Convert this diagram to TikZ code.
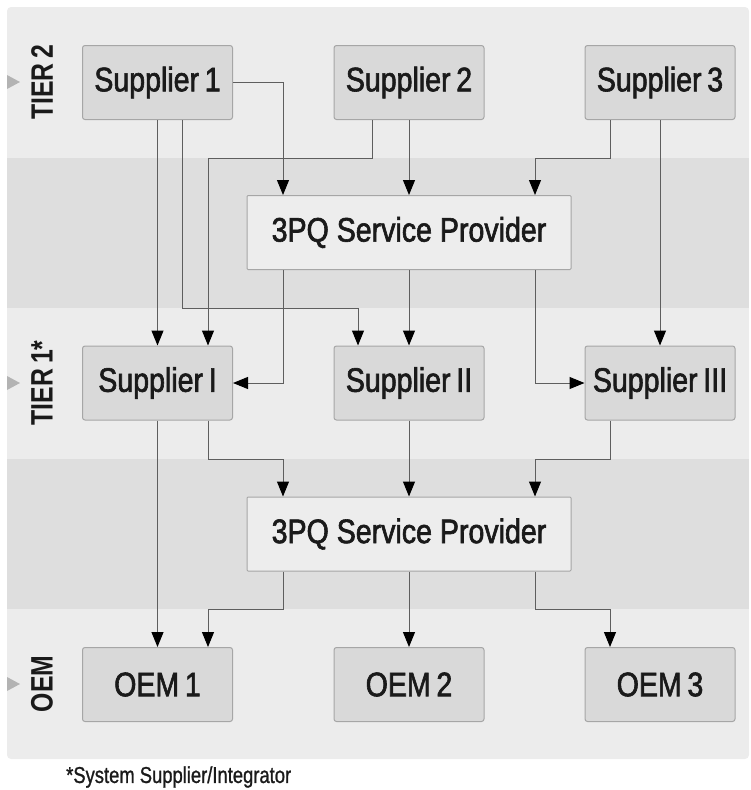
\documentclass[tikz,border=0pt]{standalone}
\usepackage{fontspec}
\setmainfont{Liberation Sans}[FakeStretch=0.84,FakeBold=1.8]
\newfontfamily\tierfont{Liberation Sans}[FakeStretch=0.8]
\newfontfamily\notefont{Liberation Sans}[FakeStretch=0.8,FakeBold=1.0]
\usetikzlibrary{arrows.meta}
\definecolor{panel}{HTML}{ECECEC}
\definecolor{band}{HTML}{DEDEDE}
\definecolor{boxfill}{HTML}{D9D9D9}
\definecolor{boxline}{HTML}{A6A6A6}
\definecolor{provfill}{HTML}{EDEDED}
\definecolor{wire}{HTML}{5E5E5E}
\definecolor{ink}{HTML}{1A1A1A}
\definecolor{marker}{HTML}{B3B3B3}
\tikzset{
  party/.style={draw=boxline, fill=boxfill, line width=1pt, rounded corners=2.5pt,
    minimum width=150pt, minimum height=74pt, inner sep=0pt, text=ink,
    font=\fontsize{34}{40}\selectfont},
  provider/.style={party, fill=provfill, rounded corners=1pt, minimum width=324pt},
  tier/.style={rotate=90, text=ink, font=\tierfont\bfseries\fontsize{31}{36}\selectfont, inner sep=0pt},
  flow/.style={draw=wire, line width=1pt,
    -{Triangle[length=15pt,width=12pt,fill=black,color=black]}},
}
\begin{document}
\begin{tikzpicture}[x=1pt,y=-1pt]
\useasboundingbox (0,0) rectangle (750,790);
% tier panel and shaded bands
\fill[panel, rounded corners=4pt] (7,7) rectangle (749,759);
\fill[band] (7,158) rectangle (749,308);
\fill[band] (7,459) rectangle (749,609);

% tier labels with side markers
\foreach \yy/\lab in {82/{TIER\,2}, 383/{TIER\,1*}, 684/{OEM}} {
  \fill[marker] (7,\yy-7) -- (20,\yy) -- (7,\yy+7) -- cycle;
  \node[tier] at (42,\yy) {\lab};
}

% tier 2 suppliers
\node[party] (s1) at (157.5,82.5) {Supplier\,1};
\node[party] (s2) at (409,82.5) {Supplier\,2};
\node[party] (s3) at (660,82.5) {Supplier\,3};
% service providers
\node[provider] (p1) at (409,232.5) {3PQ Service Provider};
\node[provider] (p2) at (409,534) {3PQ Service Provider};
% tier 1 suppliers
\node[party] (t1) at (157.5,383) {Supplier\,I};
\node[party] (t2) at (409,383) {Supplier\,II};
\node[party] (t3) at (660,383) {Supplier\,III};
% OEMs
\node[party] (o1) at (157.5,684.5) {OEM\,1};
\node[party] (o2) at (409,684.5) {OEM\,2};
\node[party] (o3) at (660,684.5) {OEM\,3};

% tier 2 -> provider / tier 1
\draw[flow] (s1.east) -| ([xshift=-126pt]p1.north);
\draw[flow] (s1.south) -- (t1.north);
\draw[flow] ([xshift=25pt]s1.south) -- ++(0,188.5) -| ([xshift=-51pt]t2.north);
\draw[flow] ([xshift=-37pt]s2.south) -- ++(0,38.5) -| ([xshift=50.5pt]t1.north);
\draw[flow] (s2.south) -- (p1.north);
\draw[flow] ([xshift=-50pt]s3.south) -- ++(0,38.5) -| ([xshift=126pt]p1.north);
\draw[flow] (s3.south) -- (t3.north);
% provider -> tier 1
\draw[flow] ([xshift=-126pt]p1.south) |- (t1.east);
\draw[flow] (p1.south) -- (t2.north);
\draw[flow] ([xshift=126pt]p1.south) |- (t3.west);
% tier 1 -> provider / OEM
\draw[flow] (t1.south) -- (o1.north);
\draw[flow] ([xshift=50.5pt]t1.south) -- ++(0,39) -| ([xshift=-126pt]p2.north);
\draw[flow] (t2.south) -- (p2.north);
\draw[flow] ([xshift=-50pt]t3.south) -- ++(0,39) -| ([xshift=126pt]p2.north);
% provider -> OEM
\draw[flow] ([xshift=-126pt]p2.south) -- ++(0,38) -| ([xshift=50.5pt]o1.north);
\draw[flow] (p2.south) -- (o2.north);
\draw[flow] ([xshift=126pt]p2.south) -- ++(0,38) -| ([xshift=-50pt]o3.north);

% footnote
\node[anchor=west, text=ink, inner sep=0pt, font=\notefont\fontsize{23}{26}\selectfont] (note) at (66,777) {*System Supplier/Integrator};
\end{tikzpicture}
\end{document}
